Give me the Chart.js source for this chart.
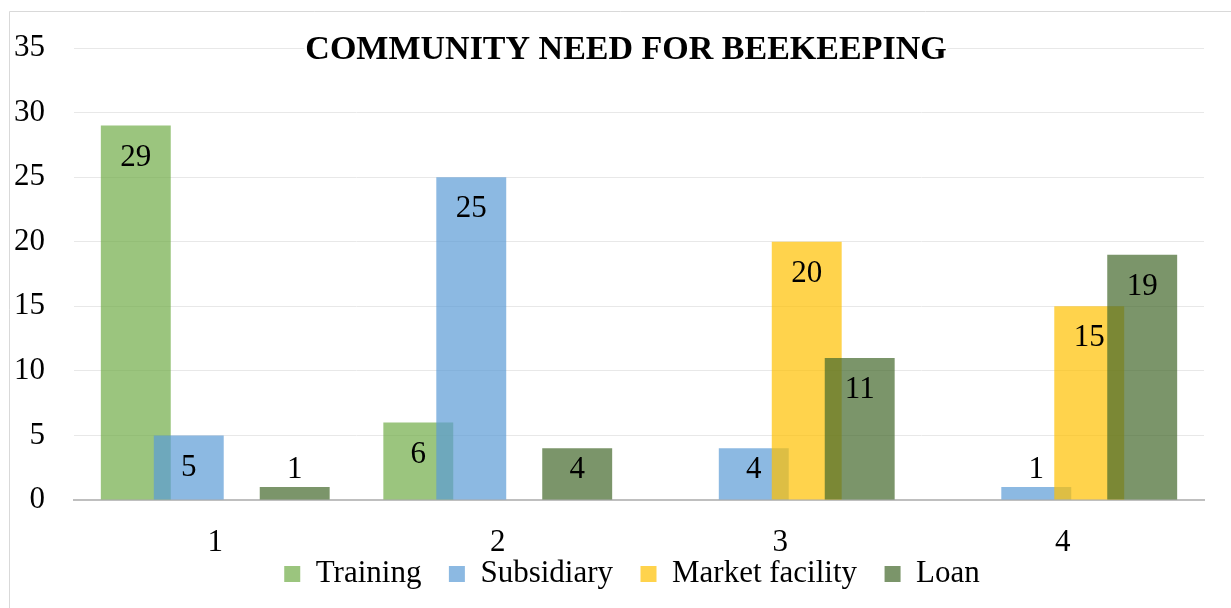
<!DOCTYPE html>
<html>
<head>
<meta charset="utf-8">
<title>Community need for beekeeping</title>
<script src="https://cdn.jsdelivr.net/npm/chart.js@4"></script>
<style>
  html, body { margin: 0; padding: 0; background: #fff; }
  #wrap { width: 1231px; height: 608px; }
</style>
</head>
<body>
<div id="wrap"><canvas id="chart" width="1231" height="608"></canvas></div>
<script>
const categories = ["1", "2", "3", "4"];
const training = [29, 6, 0, 0];
const subsidiary = [5, 25, 4, 1];
const marketFacility = [0, 0, 20, 15];
const loan = [1, 4, 11, 19];
const yTicks = [0, 5, 10, 15, 20, 25, 30, 35];
const chartTitle = "COMMUNITY NEED FOR BEEKEEPING";

const serif = "'Liberation Serif', 'Times New Roman', serif";

// Excel draws later series on top, so draw datasets in forward order
const forwardDraw = {
    id: "forwardDraw",
    beforeDatasetsDraw(chart) {
        for (let i = 0; i < chart.data.datasets.length; i++) {
            const meta = chart.getDatasetMeta(i);
            if (!meta.hidden) meta.controller.draw();
        }
        return false;
    }
};

// nudge boxes after layout: let x labels hang below the axis box, move legend a bit
const layoutTweak = {
    id: "layoutTweak",
    afterLayout(chart) {
        const x = chart.scales.x;
        x.bottom = x.top + 64;
        const lg = chart.legend;
        lg.left += 30;
        lg.right += 30;
        lg.top += 3;
        lg.bottom += 3;
    }
};

const decorations = {
    id: "decorations",
    beforeDraw(chart) {
        const ctx = chart.ctx;
        ctx.save();
        ctx.strokeStyle = "#d9d9d9";
        ctx.lineWidth = 1;
        ctx.beginPath();
        ctx.moveTo(9.5, chart.height);
        ctx.lineTo(9.5, 11.5);
        ctx.lineTo(chart.width, 11.5);
        ctx.stroke();
        ctx.restore();
    },
    afterDraw(chart) {
        const ctx = chart.ctx;
        const y = chart.scales.y;
        const base = y.getPixelForValue(0);
        ctx.save();
        ctx.font = "31px " + serif;
        ctx.fillStyle = "#000";
        ctx.textAlign = "center";
        ctx.textBaseline = "middle";
        chart.data.datasets.forEach((ds, i) => {
            chart.getDatasetMeta(i).data.forEach((bar, j) => {
                const v = ds.data[j];
                if (!v) return;
                const ly = Math.min(bar.y + 32, base - 30);
                ctx.fillText(String(v), bar.x, ly);
            });
        });

        // title sits inside the plot, on a white box over the top gridline
        ctx.font = "bold 34px " + serif;
        const tw = ctx.measureText(chartTitle).width;
        const cx = 626, cy = 50;
        ctx.fillStyle = "#fff";
        ctx.fillRect(cx - tw / 2 - 1, cy - 18, tw + 2, 36);
        ctx.fillStyle = "#000";
        ctx.fillText(chartTitle, cx, cy);
        ctx.restore();
    }
};

new Chart(document.getElementById("chart"), {
    type: "bar",
    data: {
        labels: categories,
        datasets: [
            { label: "Training", data: training, backgroundColor: "rgba(112,173,71,0.7)" },
            { label: "Subsidiary", data: subsidiary, backgroundColor: "rgba(91,155,213,0.7)" },
            { label: "Market facility", data: marketFacility, backgroundColor: "rgba(255,192,0,0.7)" },
            { label: "Loan", data: loan, backgroundColor: "rgba(67,104,43,0.7)" }
        ]
    },
    options: {
        responsive: false,
        animation: false,
        categoryPercentage: 0.75,
        barPercentage: 1.32,
        layout: { padding: { left: 0, right: 27, top: 48, bottom: 11.5 } },
        plugins: {
            title: { display: false },
            tooltip: { enabled: false },
            legend: {
                position: "bottom",
                labels: {
                    font: { family: serif, size: 31 },
                    color: "#000",
                    boxWidth: 16,
                    boxHeight: 16,
                    padding: 27.5
                }
            }
        },
        scales: {
            x: {
                grid: { display: false, drawTicks: false },
                border: { display: true, color: "#bfbfbf", width: 2 },
                ticks: { font: { family: serif, size: 31 }, color: "#000", padding: 24 },
                afterFit(scale) { scale.height = 28; }
            },
            y: {
                min: 0,
                max: 35,
                afterBuildTicks(scale) { scale.ticks = yTicks.map(v => ({ value: v })); },
                grid: { color: "#e8e8e8", lineWidth: 1, drawTicks: false },
                border: { display: false },
                ticks: { font: { family: serif, size: 31 }, color: "#000", padding: 29 },
                afterFit(scale) { scale.width = 74; }
            }
        }
    },
    plugins: [forwardDraw, layoutTweak, decorations]
});
</script>
</body>
</html>
